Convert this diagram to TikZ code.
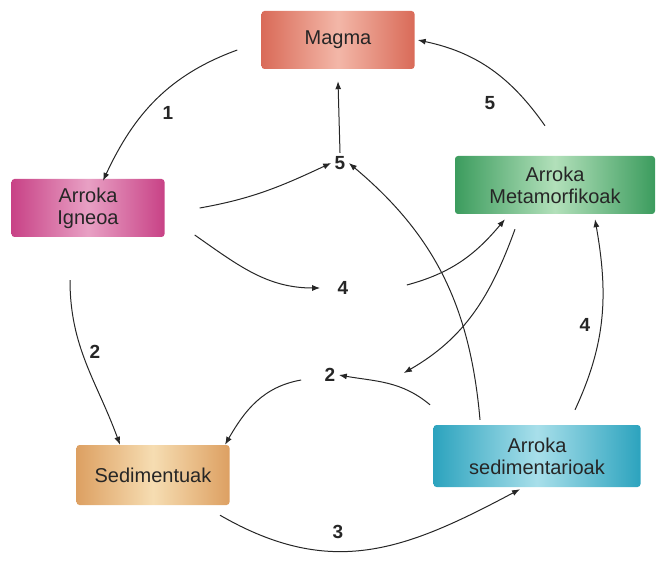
\documentclass[tikz,border=0pt]{standalone}
\usepackage{fontspec}
\setmainfont{Liberation Sans}
\usetikzlibrary{arrows.meta,positioning,calc}

\definecolor{magmaD}{HTML}{D96A58}
\definecolor{magmaL}{HTML}{F3B7A8}
\definecolor{ignD}{HTML}{C84286}
\definecolor{ignL}{HTML}{E8A0C4}
\definecolor{metaD}{HTML}{3C9C5E}
\definecolor{metaL}{HTML}{B2E0BA}
\definecolor{sedD}{HTML}{DDA062}
\definecolor{sedL}{HTML}{F6DDB2}
\definecolor{sarD}{HTML}{2CA3BE}
\definecolor{sarL}{HTML}{A8DFEA}

\begin{document}
\begin{tikzpicture}[
  x=1pt, y=1pt,
  arr/.style={-{Latex[length=8pt,width=6pt]}, line width=1pt, black!85},
  box/.style={rounded corners=3pt, minimum height=58pt, align=center,
    font=\fontsize{20}{22}\selectfont, text=black!85},
  num/.style={font=\bfseries\fontsize{19}{20}\selectfont, text=black!85}
]
\useasboundingbox (0,0) rectangle (658,560);

% ===== ROCK BOXES =====
\node[box, minimum width=153pt, left color=magmaD, right color=magmaD, middle color=magmaL] (magma) at (338,520) {Magma};
\node[box, minimum width=153pt, left color=ignD, right color=ignD, middle color=ignL] (igneoa) at (88,352) {Arroka\\Igneoa};
\node[box, minimum width=200pt, left color=metaD, right color=metaD, middle color=metaL] (meta) at (555,375) {Arroka\\Metamorfikoak};
\node[box, minimum width=153pt, minimum height=60pt, left color=sedD, right color=sedD, middle color=sedL] (sedim) at (153,85) {Sedimentuak};
\node[box, minimum width=207pt, minimum height=62pt, left color=sarD, right color=sarD, middle color=sarL] (sedar) at (537,104) {Arroka\\sedimentarioak};

% ===== STEP NUMBERS =====
\node[num] (l1) at (168,447) {1};
\node[num] (l5) at (490,457) {5};
\node[num] (c5) at (340,397) {5};
\node[num] (c4) at (343,272) {4};
\node[num] (l2) at (95,208) {2};
\node[num] (l4) at (585,235) {4};
\node[num] (c2) at (330,185) {2};
\node[num] (l3) at (338,28) {3};

% ===== ARROWS =====
\draw[arr] ([xshift=-24pt,yshift=-10pt]magma.west) to[out=200,in=65] ([xshift=15pt,yshift=-2pt]igneoa.north);
\draw[arr] ([xshift=-10pt,yshift=30pt]meta.north) to[out=125,in=-12] ([xshift=3pt]magma.east);
\draw[arr] (c5.north) -- ([yshift=-12pt]magma.south);
\draw[arr] ([xshift=35pt]igneoa.east) to[out=10,in=205] (c5.west);
\draw[arr] ([xshift=30pt,yshift=-27pt]igneoa.east) to[out=-35,in=180] ([xshift=-14pt]c4.west);
\draw[arr] ([xshift=55pt,yshift=3pt]c4.east) to[out=15,in=230] ([xshift=-50pt,yshift=-5pt]meta.south);
\draw[arr] ([xshift=-57pt,yshift=5pt]sedar.north) to[out=95,in=-40] (c5.east);
\draw[arr] ([xshift=-40pt,yshift=-15pt]meta.south) to[out=250,in=30] ([xshift=65pt,yshift=2pt]c2.east);
\draw[arr] ([xshift=-18pt,yshift=-43pt]igneoa.south) to[out=270,in=110] ([xshift=-33pt]sedim.north);
\draw[arr] ([xshift=38pt,yshift=15pt]sedar.north) to[out=65,in=-80] ([xshift=40pt,yshift=-5pt]meta.south);
\draw[arr] ([xshift=-107pt,yshift=20pt]sedar.north) to[out=140,in=-10] (c2.east);
\draw[arr] ([xshift=-20pt,yshift=-5pt]c2.west) to[out=190,in=60] ([xshift=72pt,yshift=0pt]sedim.north);
\draw[arr] ([xshift=67pt,yshift=-10pt]sedim.south) to[out=-30,in=208,looseness=1.1] ([xshift=-17pt,yshift=-2pt]sedar.south);

\end{tikzpicture}
\end{document}
